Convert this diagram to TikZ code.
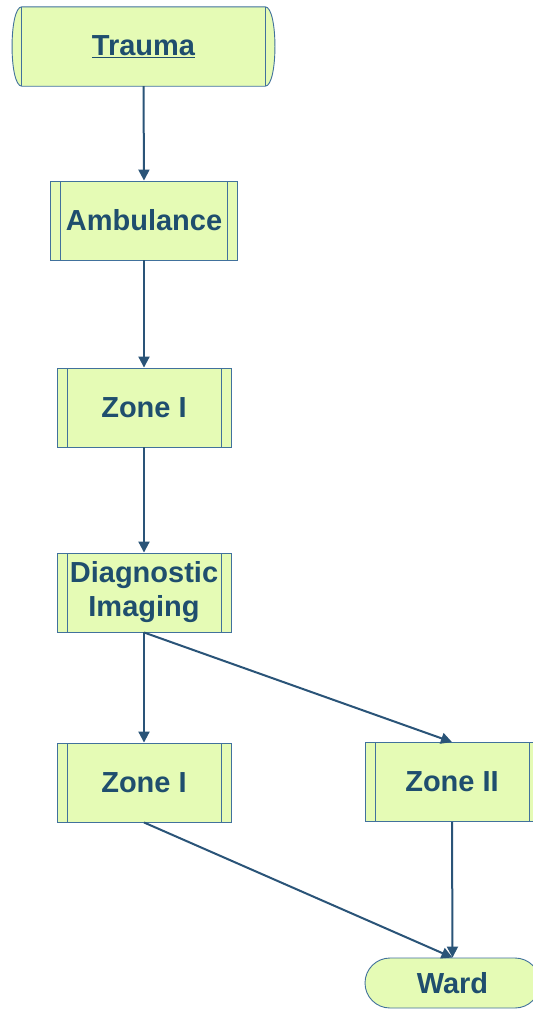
\documentclass[tikz,border=0pt]{standalone}
\usepackage{fontspec}
\setmainfont{Liberation Sans}
\usetikzlibrary{arrows.meta,calc}
\definecolor{boxfill}{HTML}{E5FBB5}
\definecolor{boxline}{HTML}{41719C}
\definecolor{txt}{HTML}{1F4E6E}
\definecolor{arr}{HTML}{2A5478}
\tikzset{
  label text/.style={text=txt, font=\fontsize{29}{34}\selectfont\bfseries, align=center},
  procbox/.style={label text, draw=boxline, fill=boxfill, line width=0.9pt,
    minimum height=79pt, inner sep=0pt,
    path picture={
      \draw[boxline, line width=0.9pt]
        ([xshift=10pt]path picture bounding box.north west) -- ([xshift=10pt]path picture bounding box.south west)
        ([xshift=-10pt]path picture bounding box.north east) -- ([xshift=-10pt]path picture bounding box.south east);
    }},
  termbox/.style={label text, draw=boxline, fill=boxfill, line width=0.9pt,
    rounded corners=25pt, minimum height=50pt, minimum width=175pt, inner sep=0pt},
  flow/.style={arr, line width=2pt, -{Triangle[length=11pt,width=11pt]}}
}
\begin{document}
\begin{tikzpicture}[x=1pt,y=-1pt]
\clip (0,0) rectangle (533,1010);
\fill[white] (0,0) rectangle (533,1010);

% start terminal with bulging sides
\node[label text, minimum width=243pt, minimum height=79pt, inner sep=0pt] (trauma) at (143.5,46.5) {};
\draw[boxline, fill=boxfill, line width=0.9pt]
  (trauma.north west) -- (trauma.north east)
  .. controls ([xshift=13pt]trauma.north east) and ([xshift=13pt]trauma.south east) .. (trauma.south east)
  -- (trauma.south west)
  .. controls ([xshift=-13pt]trauma.south west) and ([xshift=-13pt]trauma.north west) .. (trauma.north west) -- cycle;
\draw[boxline, line width=0.9pt] (trauma.north west) -- (trauma.south west)
  (trauma.north east) -- (trauma.south east);
\node[label text] at (trauma.center) {\underline{Trauma}};

% process steps
\node[procbox, minimum width=187pt] (amb) at (144,220.5) {Ambulance};
\node[procbox, minimum width=174pt] (zone1a) at (144,407.5) {Zone I};
\node[procbox, minimum width=174pt] (diag) at (144,592.5) {Diagnostic\\Imaging};
\node[procbox, minimum width=174pt] (zone1b) at (144,782.5) {Zone I};
\node[procbox, minimum width=174pt] (zone2) at (452,782) {Zone II};

% end terminal
\node[termbox] (ward) at (452.5,983) {Ward};

% connectors
\draw[flow] (trauma.south) -- (amb.north);
\draw[flow] (amb.south) -- (zone1a.north);
\draw[flow] (zone1a.south) -- (diag.north);
\draw[flow] (diag.south) -- (zone1b.north);
\draw[flow] (diag.south) -- (zone2.north);
\draw[flow] (zone1b.south) -- (ward.north);
\draw[flow] (zone2.south) -- (ward.north);
\end{tikzpicture}
\end{document}
